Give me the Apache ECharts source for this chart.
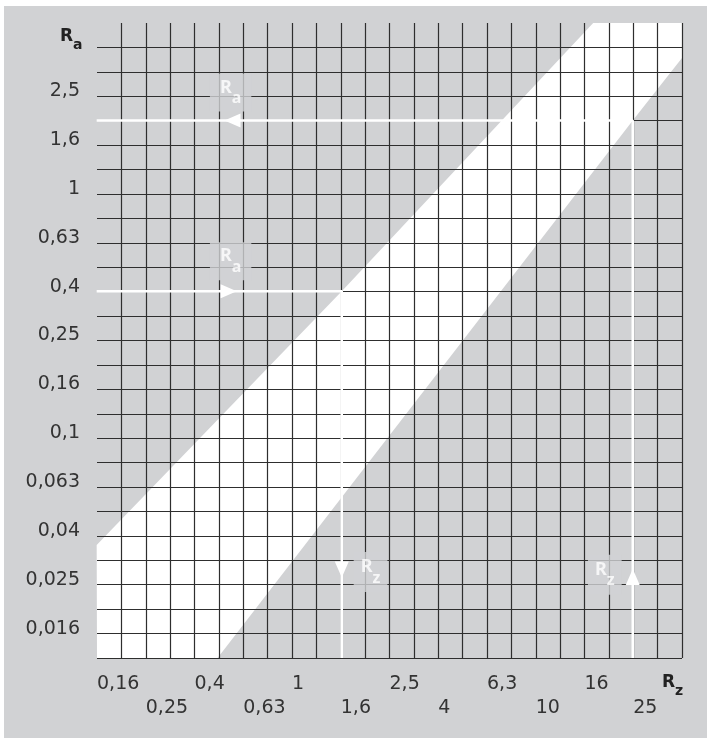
<!DOCTYPE html>
<html>
<head>
<meta charset="utf-8">
<script src="https://cdn.jsdelivr.net/npm/echarts@6/dist/echarts.min.js"></script>
<style>
html, body { margin: 0; padding: 0; background: #fff; }
#container { position: absolute; left: 4px; top: 6px; width: 703px; height: 732px; }
</style>
</head>
<body>
<div id="container"></div>
<script>
// axis ranges in decades (log10)
var X_MIN = -0.8, X_MAX = 1.6;   // Rz 0,16 .. 40
var Y_MIN = -1.9, Y_MAX = 0.7;   // Ra 0,0125 .. 5

// tick labels
var rzTicks = [0.16, 0.25, 0.4, 0.63, 1, 1.6, 2.5, 4, 6.3, 10, 16, 25];
var rzTickText = ['0,16', '0,25', '0,4', '0,63', '1', '1,6', '2,5', '4', '6,3', '10', '16', '25'];
var raTicks = [0.016, 0.025, 0.04, 0.063, 0.1, 0.16, 0.25, 0.4, 0.63, 1, 1.6, 2.5];
var raTickText = ['0,016', '0,025', '0,04', '0,063', '0,1', '0,16', '0,25', '0,4', '0,63', '1', '1,6', '2,5'];

// white band edges [Rz, Ra]
var bandUpper = [[0.158, 0.0365], [1.6, 0.4], [17.2, 5.01]];
var bandLower = [[39.8, 3.6], [25, 2], [0.495, 0.0126]];

// the two reading examples [Rz, Ra]
var arrowHigh = [[25, 0.0126], [25, 2], [0.158, 2]];
var arrowLow = [[0.158, 0.4], [1.6, 0.4], [1.6, 0.0126]];

// arrow heads
var headRz = [0.57, 0.55, 1.6, 25];
var headRa = [2, 0.4, 0.029, 0.027];
var headDir = ['left', 'right', 'down', 'up'];

// in-plot labels
var markRz = [0.56, 0.56, 2.1, 19.2];
var markRa = [2.6, 0.53, 0.0283, 0.0276];
var markSub = ['a', 'a', 'z', 'z'];

var L = Math.log10;
function toLog(p) { return [L(p[0]), L(p[1])]; }

var GREY = '#d1d2d4';
var FONT = 'DejaVu Sans';
var rot = { up: 0, left: 90, down: 180, right: -90 };

var dom = document.getElementById('container');
var myChart = echarts.init(dom);

var bandPoly = bandUpper.map(toLog)
	.concat([[X_MAX, Y_MAX]])
	.concat(bandLower.map(toLog))
	.concat([[X_MIN, Y_MIN]]);

// rich styles for the "R" + subscript names
function nameRich(color) {
	return {
		r: { fontFamily: FONT, fontWeight: 'bold', fontSize: 17, fill: color, color: color, lineHeight: 24, verticalAlign: 'top' },
		s: { fontFamily: FONT, fontWeight: 'bold', fontSize: 14, fill: color, color: color, lineHeight: 14, verticalAlign: 'bottom' }
	};
}

var option = {
	backgroundColor: GREY,
	animation: false,
	grid: { left: 93, top: 17, right: 25, bottom: 80 },
	graphic: [
		{ // Ra axis name
			type: 'text', left: 56, top: 22, z: 10,
			style: { text: '{r|R}{s|a}', rich: nameRich('#222') }
		},
		{ // Rz axis name
			type: 'text', left: 658, top: 668, z: 10,
			style: { text: '{r|R}{s|z}', rich: nameRich('#222') }
		}
	],
	xAxis: {
		type: 'value', min: X_MIN, max: X_MAX, interval: 0.1, z: 3,
		axisLine: { show: false },
		axisTick: { show: false },
		splitLine: { show: true, showMinLine: false, lineStyle: { color: '#2e2e2e', width: 1.2 } },
		axisLabel: {
			interval: 0, margin: 14, align: 'left', lineHeight: 24,
			fontFamily: FONT, fontSize: 19, color: '#333',
			formatter: function (v) {
				var i = rzTicks.findIndex(function (t) { return Math.abs(L(t) - v) < 0.02; });
				if (i < 0) return '';
				return i % 2 === 0 ? rzTickText[i] + '\n ' : ' \n' + rzTickText[i];
			}
		}
	},
	yAxis: {
		type: 'value', min: Y_MIN, max: Y_MAX, interval: 0.1, z: 3,
		axisLine: { show: false },
		axisTick: { show: false },
		splitLine: { show: true, showMaxLine: false, lineStyle: { color: '#2e2e2e', width: 1.2 } },
		axisLabel: {
			interval: 0, margin: 17, lineHeight: 10, verticalAlign: 'bottom',
			fontFamily: FONT, fontSize: 19, color: '#333',
			formatter: function (v) {
				var i = raTicks.findIndex(function (t) { return Math.abs(L(t) - v) < 0.02; });
				return i < 0 ? '' : raTickText[i];
			}
		}
	},
	series: [
		{ // white band
			type: 'custom', z: 1, silent: true,
			data: [[X_MIN, Y_MIN]],
			renderItem: function (params, api) {
				return {
					type: 'polygon',
					shape: { points: bandPoly.map(function (p) { return api.coord(p); }) },
					style: { fill: '#fff' }
				};
			}
		},
		{
			type: 'line', z: 5, silent: true, showSymbol: false,
			data: arrowHigh.map(toLog),
			lineStyle: { color: '#fff', width: 2.5 }
		},
		{
			type: 'line', z: 5, silent: true, showSymbol: false,
			data: arrowLow.map(toLog),
			lineStyle: { color: '#fff', width: 2.5 }
		},
		{ // arrow heads
			type: 'scatter', z: 6, silent: true,
			symbol: 'triangle', symbolSize: [14, 16],
			itemStyle: { color: '#fff', opacity: 1 },
			data: headRz.map(function (rz, i) {
				return { value: [L(rz), L(headRa[i])], symbolRotate: rot[headDir[i]] };
			})
		},
		{ // R_a / R_z marks inside the plot
			type: 'scatter', z: 7, silent: true, symbolSize: 0,
			data: markRz.map(function (rz, i) {
				return {
					value: [L(rz), L(markRa[i])], name: markSub[i],
					label: { padding: markSub[i] === 'a' ? [5, 10, 5, 10] : [6, 7, 6, 7] }
				};
			}),
			label: {
				show: true, position: 'inside',
				formatter: function (p) { return '{r|R}{s|' + p.name + '}'; },
				backgroundColor: GREY,
				rich: {
					r: { fontFamily: 'Noto Sans', fontWeight: 'bold', fontSize: 18, color: '#fff', lineHeight: 28, verticalAlign: 'top' },
					s: { fontFamily: 'Noto Sans', fontWeight: 'bold', fontSize: 16, color: '#fff', lineHeight: 16, verticalAlign: 'bottom' }
				}
			}
		}
	]
};

myChart.setOption(option);
</script>
</body>
</html>
